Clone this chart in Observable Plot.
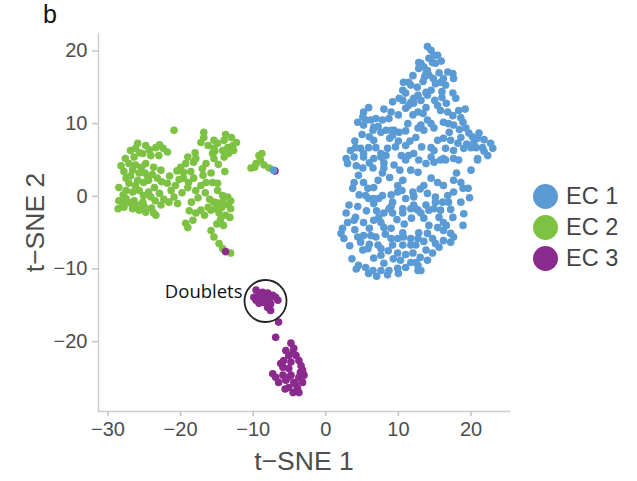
<!DOCTYPE html>
<html>
<head>
<meta charset="utf-8">
<script src="https://cdn.jsdelivr.net/npm/d3@7"></script>
<script src="https://cdn.jsdelivr.net/npm/@observablehq/plot@0.6"></script>
<style>
  html, body { margin: 0; padding: 0; background: #fff; }
  #wrap { position: relative; width: 637px; height: 481px; overflow: hidden; font-family: "Liberation Sans", Arial, sans-serif; }
  #panel { position: absolute; left: 43px; top: 2px; font-size: 25px; line-height: 25px; color: #111; }
  #chart { position: absolute; left: 0; top: 30px; }
  #legend { position: absolute; left: 533px; top: 181px; }
  .item { display: flex; align-items: center; height: 31px; }
  .sw { width: 25px; height: 25px; border-radius: 50%; margin-right: 8px; }
  .lab { font-size: 23.5px; color: #444; }
</style>
</head>
<body>
<div id="wrap">
  <div id="panel">b</div>
  <div id="chart"></div>
  <div id="legend"></div>
</div>
<script>
const categories = ["EC 1", "EC 2", "EC 3"];
const colors = ["#5b9bd5", "#7dc242", "#8b2a8d"];
const xTicks = [-30, -20, -10, 0, 10, 20];
const yTicks = [-20, -10, 0, 10, 20];

// EC 1 (blue) t-SNE coordinates [t-SNE 1, t-SNE 2]
const ec1 = [
  [10.7,15.7],[11.4,15.7],[11.7,15.3],[10.6,14.6],[11.0,14.2],[10.1,13.5],[10.6,13.2],[11.7,12.9],[12.1,12.8],[11.0,12.1],
  [11.4,12.5],[12.8,18.4],[12.8,17.6],[5.9,12.2],[5.2,11.6],[5.1,10.9],[5.5,10.5],[5.2,9.8],[6.2,10.5],[6.9,10.7],
  [7.8,10.5],[8.7,10.7],[6.6,9.5],[6.5,9.1],[7.6,8.8],[8.3,9.1],[9.0,9.1],[9.4,9.1],[10.1,8.8],[9.2,8.4],
  [3.4,6.3],[4.1,6.7],[4.8,6.6],[5.2,5.9],[5.9,6.7],[6.6,7.7],[6.9,6.7],[7.6,5.9],[8.5,6.6],[11.0,7.0],
  [11.4,5.6],[12.1,5.9],
  [14.5,20.1],[14.9,19.4],[15.4,19.4],[14.2,19.0],[14.7,18.4],[15.1,18.3],[13.1,18.3],[13.5,17.8],[14.0,17.3],[13.8,16.9],
  [14.2,16.7],[16.8,17.1],[17.5,16.9],[17.6,16.2],[16.2,16.2],[15.8,15.7],[15.1,15.5],[16.5,15.3],[14.5,14.6],[13.8,14.3],
  [14.0,13.9],[12.7,13.9],[12.1,13.5],[13.1,13.2],[17.5,14.2],[17.9,13.5],[13.8,12.2],[12.7,11.6],[13.4,11.4],[15.4,12.5],
  [15.8,11.8],[16.8,11.6],[17.5,11.1],[18.3,11.8],[14.0,10.5],[14.5,10.0],[13.1,9.8],[12.7,9.4],[12.4,8.1],[13.5,9.1],
  [14.9,9.4],[16.2,10.2],[16.9,10.0],[17.6,9.8],[18.9,10.2],[19.3,9.4],[19.7,8.7],[21.1,8.7],[20.9,8.0],[20.4,7.4],
  [20.0,6.7],[18.6,8.1],[18.2,7.3],[17.2,7.7],[16.2,8.0],[15.4,7.7],[14.5,6.7],[14.9,6.3],[16.5,6.6],[17.6,6.3],
  [19.0,6.6],[20.7,6.7],[21.6,6.7],[22.7,7.3],[23.0,6.6],[22.3,5.6],[20.9,5.2],[16.2,5.2],[17.6,5.2],[14.5,5.4],
  [3.9,5.4],[5.2,5.4],[6.6,5.2],[7.6,5.4],[8.3,5.6],[11.0,5.0],[5.1,3.9],[4.5,2.9],[6.5,3.9],[8.0,3.9],
  [7.8,3.2],[11.7,3.6],[10.6,2.2],[9.9,1.5],[3.9,1.9],[3.7,1.1],[5.2,1.9],[5.8,1.1],[6.6,1.2],[5.5,0.1],
  [5.9,-0.3],[6.6,-0.3],[7.3,-0.3],[7.8,0.1],[6.6,-1.0],[9.2,-0.8],[9.9,0.6],[12.0,0.6],[12.1,-0.1],[12.1,-1.2],
  [11.0,-0.3],[8.7,-1.7],[8.0,-2.3],[9.2,-2.3],[10.6,-1.7],[10.6,-2.3],[11.7,-1.7],[12.7,-1.9],[4.1,-2.9],[3.9,-3.3],
  [5.2,-3.6],[6.6,-3.3],[7.6,-3.6],[8.0,-4.3],[7.3,-2.9],[2.3,-4.4],[2.1,-5.1],[2.5,-5.8],[4.4,-5.6],[5.2,-5.4],
  [6.2,-5.4],[6.9,-5.6],[4.8,-6.3],[5.1,-7.4],[5.8,-7.2],[7.2,-6.7],[7.6,-7.2],[9.0,-5.8],[9.9,-5.8],[10.7,-5.6],
  [11.7,-5.8],[12.7,-5.8],[11.7,-6.7],[10.6,-6.7],[9.2,-6.7],[9.9,-7.8],[12.0,-7.8],[11.7,-9.1],[10.3,-8.8],[11.0,-9.8],
  [9.9,-9.9],[8.7,-10.2],[7.6,-10.2],[6.5,-10.2],[5.5,-9.8],[4.5,-9.5],[6.6,-8.5],[7.6,-8.1],[12.4,-9.1],[12.7,-10.2],
  [12.7,3.3],[13.8,4.5],[14.9,4.7],[15.8,5.0],[16.5,5.0],[18.3,5.0],[20.9,5.0],[14.5,2.5],[13.5,1.5],[15.4,1.9],
  [16.2,1.5],[17.6,2.2],[18.6,1.9],[18.9,1.1],[19.6,1.1],[17.6,0.6],[16.8,0.1],[15.1,-0.1],[15.1,-0.8],[16.1,-0.8],
  [16.9,-0.8],[18.6,-0.8],[12.1,0.1],[12.4,-1.7],[13.8,-1.2],[14.2,-1.9],[13.1,-2.3],[13.5,-3.0],[14.9,-1.7],[15.8,-1.9],
  [15.6,-2.9],[16.2,-3.6],[17.5,-2.9],[18.9,-4.0],[14.2,-4.0],[12.8,-5.0],[14.0,-5.1],[15.4,-4.3],[16.2,-4.7],[17.2,-5.1],
  [17.6,-5.6],[14.7,-5.8],[16.2,-6.1],[17.2,-6.3],[15.1,-6.5],[13.8,-7.4],[14.7,-7.8],[12.4,-6.7],[13.1,-10.2],[12.7,-9.5],
  [3.0,4.5],[4.2,4.2],[6.0,4.6],[7.2,2.2],[8.8,2.6],[9.4,4.3],[10.2,3.6],[9.0,0.2],[10.5,0.8],[4.6,0.2],
  [3.2,-1.2],[4.4,-1.4],[5.6,-2.0],[7.0,-2.0],[9.8,-3.2],[10.8,-3.8],[11.8,-3.0],[9.0,-4.4],[3.3,-6.8],[3.6,-8.6],
  [4.2,-10.0],[5.9,-10.6],[8.0,-9.2],[9.3,-8.6],[8.6,-7.5],[6.0,-6.6],[8.2,-5.2],[3.0,-3.6],[2.8,-2.3],[8.0,12.0],
  [9.0,11.6],[10.0,11.2],[9.2,13.0],[11.3,10.0],[12.0,11.2],[11.0,9.0],[12.6,15.0],[13.4,15.8],[12.0,16.6],[14.8,16.2],
  [15.6,17.0],[16.0,13.6],[15.0,13.2],[16.6,12.8],[17.0,8.8],[19.4,7.2],[21.8,7.8],[19.2,12.0],[18.4,9.2],[13.2,6.8],
  [12.8,5.0],[9.6,6.8],[10.4,5.6],[8.8,8.0],[4.0,7.6],[5.0,8.5],[2.8,5.2],[13.0,1.0],[14.0,0.4],[17.2,-1.8],
  [19.8,-0.2],[18.0,3.2],[20.0,3.6],[19.0,-2.4],[16.6,-4.0],[13.5,-6.2],[15.6,-7.0],[14.0,-8.8],[13.0,-8.4],[11.0,-8.0],
  [10.0,-10.6],[8.5,-10.8],[7.0,-11.0],[15.9,18.6],[14.0,20.6],[13.6,16.4],[16.0,14.4],[18.6,10.8],[21.8,6.2],[20.2,8.2],
  [6.0,8.2],[7.2,9.6],[4.4,10.2],[11.6,7.6],[10.0,7.6],[8.0,4.6],[9.0,-1.4],[6.0,-4.4],[4.0,-4.6],[10.6,-5.0],
  [-7.2,3.6]
];

// EC 2 (green)
const ec2 = [
  [-20.9,9.1],[-26.9,6.3],[-25.9,7.3],[-24.8,7.0],[-23.4,6.7],[-22.4,6.6],[-21.8,6.1],[-26.4,5.4],[-25.2,5.9],[-24.1,5.6],
  [-23.0,5.6],[-27.1,4.5],[-26.2,4.3],[-24.8,4.5],[-23.7,4.0],[-22.7,3.6],[-26.6,3.6],[-25.7,3.2],[-24.5,2.6],[-27.5,2.5],
  [-28.5,1.2],[-27.1,1.8],[-26.2,1.5],[-25.1,1.9],[-24.4,2.2],[-27.5,0.8],[-26.6,0.6],[-25.7,0.8],[-25.1,0.1],[-28.5,-0.6],
  [-27.5,-0.3],[-26.4,-0.6],[-25.2,-0.8],[-28.6,-1.7],[-27.8,-1.5],[-26.6,-1.7],[-25.7,-1.9],[-24.8,-2.2],[-23.7,-2.3],[-22.7,-1.2],
  [-24.1,-0.1],[-21.8,1.8],[-21.3,0.8],[-20.7,1.5],[-20.9,-0.1],[-20.4,-1.0],[-21.6,-0.8],
  [-16.8,8.8],[-16.8,8.1],[-17.2,7.4],[-15.4,7.7],[-14.9,7.3],[-14.0,7.7],[-12.8,7.0],[-13.5,6.7],[-14.2,6.3],[-15.4,6.6],
  [-15.6,5.9],[-13.4,5.9],[-14.0,5.4],[-15.4,5.2],[-19.0,5.4],[-17.9,5.2],[-18.2,4.7],[-16.5,4.5],[-19.3,4.5],[-20.0,4.0],
  [-19.6,2.5],[-18.9,1.9],[-18.2,2.5],[-16.9,2.9],[-16.5,1.9],[-17.2,1.5],[-15.6,1.9],[-14.9,1.8],[-19.0,1.2],[-17.9,0.8],
  [-14.9,0.8],[-14.2,0.1],[-13.5,-0.1],[-13.1,-0.6],[-13.4,-1.2],[-14.2,-0.8],[-15.4,-0.8],[-16.2,-1.5],[-17.2,-1.9],[-17.9,-2.3],
  [-18.3,-3.3],[-19.3,-3.7],[-19.0,-4.3],[-15.8,-1.9],[-15.1,-1.7],[-14.7,-2.3],[-13.1,-1.7],[-15.8,-4.7],[-15.4,-5.6],[-14.7,-6.5],
  [-14.2,-7.2],[-13.1,-7.8],
  [-27.9,0.2],[-27.0,-0.9],[-26.0,-1.2],[-25.0,-1.4],[-24.0,-1.6],[-26.9,2.8],[-25.9,2.2],[-24.9,3.2],[-23.9,3.0],[-23.2,2.5],
  [-22.6,2.0],[-23.6,1.2],[-22.9,0.4],[-24.4,0.6],[-25.4,4.0],[-27.8,3.4],[-28.0,-1.0],[-26.2,6.6],[-24.3,6.4],[-22.9,7.1],
  [-25.6,6.0],[-27.6,5.2],[-28.2,4.2],[-23.5,-0.6],[-22.3,-0.4],[-21.5,2.8],[-20.5,3.5],[-19.8,0.5],[-20.2,2.3],[-18.6,3.4],
  [-23.4,-2.6],[-16.0,-0.4],[-15.0,-0.9],[-16.6,0.5],[-18.5,-0.8],[-17.6,-0.2],[-14.3,-1.5],[-13.8,-2.6],[-14.5,-3.2],[-13.2,-2.9],
  [-16.7,-2.6],[-18.8,-2.0],[-17.0,3.8],[-15.8,3.2],[-14.8,4.4],[-13.9,3.4],[-15.3,6.2],[-16.2,7.0],[-13.0,8.1],[-12.7,6.3],
  [-13.8,8.5],[-12.3,7.4],[-19.6,3.3],[-18.0,6.0],[-14.1,-4.0],[-15.0,-3.8],
  [-9.2,5.6],[-9.0,5.0],[-9.6,4.5],[-10.3,3.9],[-8.5,4.3],[-7.8,3.9],[-8.8,5.9],[-9.8,4.0]
];

// EC 3 (purple)
const ec3 = [
  [-13.8,-7.6],[-7.0,3.5],
  [-9.6,-12.9],[-9.2,-13.3],[-8.7,-13.2],[-8.0,-13.3],[-7.3,-13.6],[-6.9,-13.9],[-9.0,-14.0],[-9.6,-14.3],[-9.2,-14.7],[-8.5,-14.6],
  [-7.8,-14.3],[-8.0,-15.3],[-7.6,-15.7],[-6.6,-14.3],[-8.3,-13.7],[-7.6,-14.8],[-9.9,-13.9],[-8.8,-14.2],
  [-6.5,-17.3],[-6.9,-19.4],
  [-4.8,-20.2],[-4.4,-20.9],[-5.5,-21.2],[-5.1,-21.9],[-4.1,-21.9],[-5.8,-22.6],[-4.8,-22.8],[-3.7,-22.6],[-3.4,-23.3],[-5.9,-23.5],
  [-5.1,-23.7],[-3.2,-23.9],[-7.3,-24.4],[-6.9,-24.9],[-5.9,-24.6],[-4.8,-24.6],[-3.7,-24.9],[-3.0,-24.6],[-6.5,-25.6],[-5.5,-25.3],
  [-4.4,-25.6],[-3.2,-25.6],[-5.1,-26.3],[-3.9,-26.4],[-4.5,-27.0],[-3.7,-27.0],[-4.5,-21.5],[-6.2,-23.0],[-3.5,-24.2],[-5.3,-25.0],
  [-4.2,-25.8],[-5.6,-26.5]
];

const doublets = [{x: -8.3, y: -14.4, label: "Doublets"}];

const toRows = (arr, cat) => arr.map(([x, y]) => ({x, y, cat}));
// draw order: EC 2, EC 3, EC 1
const points = [
  ...toRows(ec2, categories[1]),
  ...toRows(ec3, categories[2]),
  ...toRows(ec1, categories[0])
];

const fmt = d => d3.format("d")(d).replace("-", "\u2212");

const chart = Plot.plot({
  width: 637,
  height: 451,
  marginTop: 3,
  marginLeft: 98,
  marginRight: 128,
  marginBottom: 70,
  style: {fontFamily: "Liberation Sans, Arial, sans-serif", background: "transparent"},
  x: {domain: [-31.3, 25.3], ticks: xTicks},
  y: {domain: [-29.6, 22.4], ticks: yTicks},
  color: {domain: categories, range: colors},
  marks: [
    Plot.frame({anchor: "bottom", stroke: "#cccccc", strokeWidth: 1.5}),
    Plot.frame({anchor: "left", stroke: "#cccccc", strokeWidth: 1.5}),
    Plot.axisX({ticks: xTicks, tickSize: 5, tickPadding: 5, fontSize: 20, stroke: "#c4c4c4", strokeWidth: 1.5, fill: "#4d4d4d", label: null, tickFormat: fmt}),
    Plot.axisY({ticks: yTicks, tickSize: 6, tickPadding: 5, fontSize: 20, stroke: "#c4c4c4", strokeWidth: 1.5, fill: "#4d4d4d", label: null, tickFormat: fmt}),
    Plot.text(["t\u2212SNE 1"], {frameAnchor: "bottom", textAnchor: "middle", lineAnchor: "middle", dy: 50, fontSize: 26.5, fill: "#4d4d4d"}),
    Plot.text(["t\u2212SNE 2"], {frameAnchor: "left", textAnchor: "middle", lineAnchor: "middle", dx: -63, rotate: -90, fontSize: 26.5, fill: "#4d4d4d"}),
    Plot.dot(points, {x: "x", y: "y", fill: "cat", r: 3.8, stroke: "none"}),
    Plot.dot(doublets, {x: "x", y: "y", r: 21, stroke: "#222", strokeWidth: 1.8, fill: "none"}),
    Plot.text(doublets, {x: "x", y: "y", text: "label", textAnchor: "end", dx: -23, dy: -9, fontSize: 18.5, fontFamily: "Open Sans, sans-serif", fill: "#111"})
  ]
});
document.getElementById("chart").appendChild(chart);

const legend = d3.select("#legend");
categories.forEach((c, i) => {
  const row = legend.append("div").attr("class", "item");
  row.append("div").attr("class", "sw").style("background", colors[i]);
  row.append("div").attr("class", "lab").text(c);
});
</script>
</body>
</html>
